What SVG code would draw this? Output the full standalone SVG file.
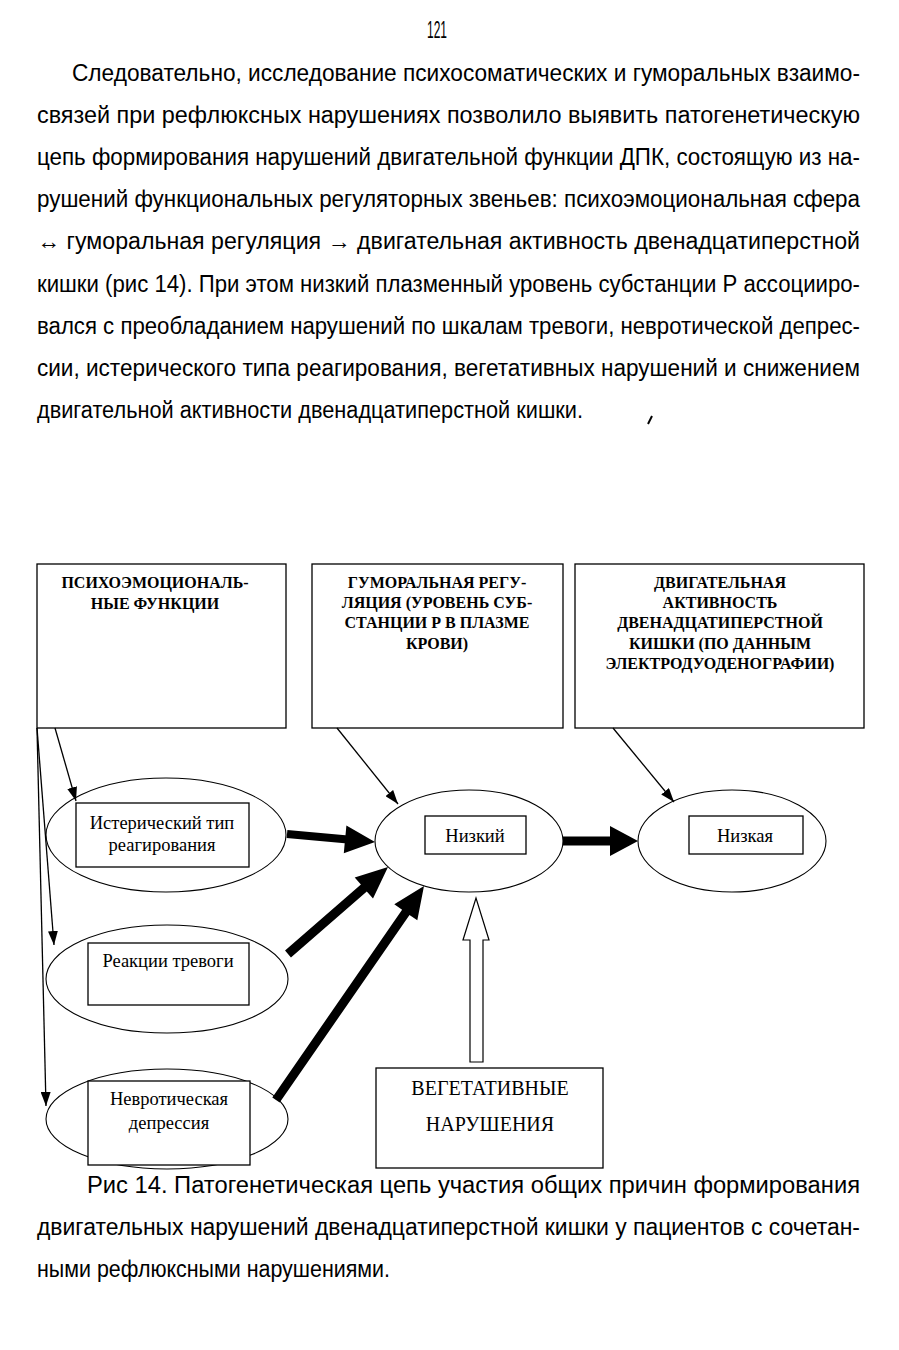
<svg xmlns="http://www.w3.org/2000/svg" width="899" height="1350" viewBox="0 0 899 1350">
<style>
.body{font-family:"Liberation Sans Narrow","Liberation Sans",sans-serif;font-size:23px;fill:#000}
.ttl{font-family:"Liberation Serif",serif;font-weight:bold;font-size:16px;fill:#000;text-anchor:middle}
.lbl{font-family:"Liberation Serif",serif;font-size:18.5px;fill:#000;text-anchor:middle}
.big{font-family:"Liberation Serif",serif;font-size:20px;fill:#000;text-anchor:middle}
.box{fill:#fff;stroke:#000;stroke-width:1.3}
.ell{fill:#fff;stroke:#000;stroke-width:1.1}
.thin{stroke:#000;stroke-width:1.3;fill:none;marker-end:url(#ah)}
.thick{fill:#000;stroke:none}
</style>
<defs>
<marker id="ah" viewBox="0 0 14 10" refX="14" refY="5" markerWidth="14" markerHeight="10" markerUnits="userSpaceOnUse" orient="auto">
<path d="M0,0 L14,5 L0,10 z" fill="#000"/>
</marker>
</defs>
<rect width="899" height="1350" fill="#fff"/>
<g id="page-text">
<text class="body" x="427" y="38" font-size="15" textLength="20" lengthAdjust="spacingAndGlyphs">121</text>
<text class="body" x="72" y="81" textLength="788" lengthAdjust="spacingAndGlyphs">Следовательно, исследование психосоматических и гуморальных взаимо-</text>
<text class="body" x="37" y="123" textLength="823" lengthAdjust="spacingAndGlyphs">связей при рефлюксных нарушениях позволило выявить патогенетическую</text>
<text class="body" x="37" y="165" textLength="823" lengthAdjust="spacingAndGlyphs">цепь формирования нарушений двигательной функции ДПК, состоящую из на-</text>
<text class="body" x="37" y="207" textLength="823" lengthAdjust="spacingAndGlyphs">рушений функциональных регуляторных звеньев: психоэмоциональная сфера</text>
<text class="body" x="37" y="249" textLength="823" lengthAdjust="spacingAndGlyphs">↔ гуморальная регуляция → двигательная активность двенадцатиперстной</text>
<text class="body" x="37" y="292" textLength="823" lengthAdjust="spacingAndGlyphs">кишки (рис 14). При этом низкий плазменный уровень субстанции Р ассоцииро-</text>
<text class="body" x="37" y="334" textLength="823" lengthAdjust="spacingAndGlyphs">вался с преобладанием нарушений по шкалам тревоги, невротической депрес-</text>
<text class="body" x="37" y="376" textLength="823" lengthAdjust="spacingAndGlyphs">сии, истерического типа реагирования, вегетативных нарушений и снижением</text>
<text class="body" x="37" y="418" textLength="546" lengthAdjust="spacingAndGlyphs">двигательной активности двенадцатиперстной кишки.</text>
<path d="M652,416 L648,424" stroke="#000" stroke-width="2"/>
</g>
<g id="box-psycho">
<rect class="box" x="37" y="564" width="249" height="164"/>
<text class="ttl" x="155" y="588">ПСИХОЭМОЦИОНАЛЬ-</text>
<text class="ttl" x="155" y="609">НЫЕ ФУНКЦИИ</text>
</g>
<g id="box-humoral">
<rect class="box" x="312" y="564" width="251" height="164"/>
<text class="ttl" x="437" y="588">ГУМОРАЛЬНАЯ РЕГУ-</text>
<text class="ttl" x="437" y="608">ЛЯЦИЯ (УРОВЕНЬ СУБ-</text>
<text class="ttl" x="437" y="628">СТАНЦИИ Р В ПЛАЗМЕ</text>
<text class="ttl" x="437" y="649">КРОВИ)</text>
</g>
<g id="box-motor">
<rect class="box" x="575" y="564" width="289" height="164"/>
<text class="ttl" x="720" y="588">ДВИГАТЕЛЬНАЯ</text>
<text class="ttl" x="720" y="608">АКТИВНОСТЬ</text>
<text class="ttl" x="720" y="628">ДВЕНАДЦАТИПЕРСТНОЙ</text>
<text class="ttl" x="720" y="649">КИШКИ (ПО ДАННЫМ</text>
<text class="ttl" x="720" y="669">ЭЛЕКТРОДУОДЕНОГРАФИИ)</text>
</g>
<g id="node-hysteric">
<ellipse class="ell" cx="166" cy="835" rx="120" ry="57"/>
<rect class="box" x="76" y="803" width="173" height="64" stroke-width="1.1"/>
<text class="lbl" x="162" y="829">Истерический тип</text>
<text class="lbl" x="162" y="851">реагирования</text>
</g>
<g id="node-anxiety">
<ellipse class="ell" cx="167" cy="979" rx="121" ry="54"/>
<rect class="box" x="88" y="943" width="161" height="62" stroke-width="1.1"/>
<text class="lbl" x="168" y="967" font-size="17.5">Реакции тревоги</text>
</g>
<g id="node-depression">
<ellipse class="ell" cx="167" cy="1119" rx="121" ry="50"/>
<rect class="box" x="88" y="1081" width="162" height="84" stroke-width="1.1"/>
<text class="lbl" x="169" y="1105" font-size="17.5">Невротическая</text>
<text class="lbl" x="169" y="1129" font-size="17.5">депрессия</text>
</g>
<g id="node-low-humoral">
<ellipse class="ell" cx="469" cy="841" rx="94" ry="51"/>
<rect class="box" x="425" y="816" width="101" height="38" stroke-width="1.1"/>
<text class="lbl" x="475" y="842" font-size="19">Низкий</text>
</g>
<g id="node-low-motor">
<ellipse class="ell" cx="732" cy="841" rx="94" ry="51"/>
<rect class="box" x="689" y="816" width="114" height="38" stroke-width="1.1"/>
<text class="lbl" x="745" y="842" font-size="19">Низкая</text>
</g>
<g id="box-vegetative">
<rect class="box" x="376" y="1068" width="227" height="100"/>
<text class="big" x="490" y="1095">ВЕГЕТАТИВНЫЕ</text>
<text class="big" x="490" y="1131">НАРУШЕНИЯ</text>
</g>
<g id="connectors">
<line class="thin" x1="55" y1="728" x2="76" y2="801"/>
<line class="thin" x1="37" y1="728" x2="54" y2="945"/>
<line class="thin" x1="37" y1="728" x2="46" y2="1106"/>
<line class="thin" x1="337" y1="728" x2="398" y2="804"/>
<line class="thin" x1="613" y1="728" x2="674" y2="802"/>
<polygon class="thick" points="287.4,830 345.5,835.3 346.4,825.4 375,842 343.8,853.2 344.7,843.3 286.6,838"/>
<polygon class="thick" points="563,836.5 610,836.5 610,826 638,841 610,856 610,845.5 563,845.5"/>
<polygon class="thick" points="285.05,950.6 360.9,884.6 354.7,877.4 388,867 373,898.6 366.8,891.4 290.95,957.4"/>
<polygon class="thick" points="272.3,1097.4 402.1,909.7 394.3,904.3 424,886 417.3,920.3 409.5,914.9 279.7,1102.6"/>
<polygon points="470,1062 470,940 463,940 476,898 489,940 483,940 483,1062 Z" fill="#fff" stroke="#000" stroke-width="1.2"/>
</g>
<g id="caption">
<text class="body" x="87" y="1193" textLength="773" lengthAdjust="spacingAndGlyphs">Рис 14. Патогенетическая цепь участия общих причин формирования</text>
<text class="body" x="37" y="1235" textLength="823" lengthAdjust="spacingAndGlyphs">двигательных нарушений двенадцатиперстной кишки у пациентов с сочетан-</text>
<text class="body" x="37" y="1277" textLength="353" lengthAdjust="spacingAndGlyphs">ными рефлюксными нарушениями.</text>
</g>
</svg>
